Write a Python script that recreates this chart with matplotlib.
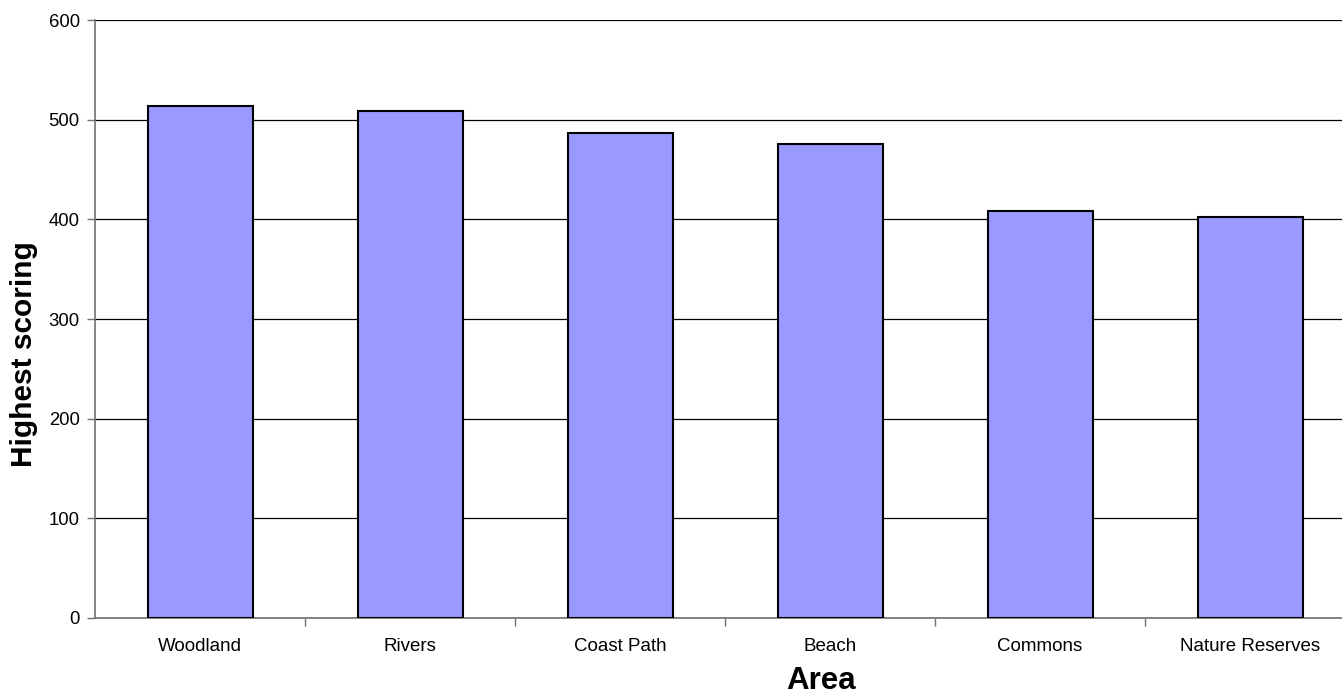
import numpy as np
import matplotlib.pyplot as plt

plt.rcParams['font.family'] = ['Liberation Sans', 'DejaVu Sans']

# values
areas = ['Woodland', 'Rivers', 'Coast Path', 'Beach', 'Commons', 'Nature Reserves']
scores = [514, 509, 487, 476, 408, 402]
yticks = [0, 100, 200, 300, 400, 500, 600]

W, H = 1342, 698
fig = plt.figure(figsize=(W / 100, H / 100), dpi=100)
# plot area runs a little past the right edge of the picture, as in the reference
ax = fig.add_axes([95 / W, (H - 617.7) / H, 1260 / W, 597.4 / H])

x = np.arange(len(areas))
ax.bar(x, scores, width=0.5, color='#9999FF', edgecolor='black', linewidth=1.5, zorder=3)

ax.set_xlim(-0.5, len(areas) - 0.5)
ax.set_ylim(0, 600)
ax.set_yticks(yticks)
ax.set_yticklabels([str(v) for v in yticks], fontsize=13.3)
ax.yaxis.grid(True, color='black', linewidth=0.9, zorder=0)
ax.set_axisbelow(True)

# category labels centred, tick marks between categories
ax.set_xticks(x)
ax.set_xticklabels(areas, fontsize=13.5)
ax.tick_params(axis='x', length=0, pad=14.5)
ax.set_xticks(np.arange(0.5, len(areas) - 0.5), minor=True)
ax.tick_params(axis='x', which='minor', length=6, color='#707070', width=1)
ax.tick_params(axis='y', length=6, color='#707070', width=1, pad=5)

for s in ['top', 'right']:
    ax.spines[s].set_visible(False)
for s in ['left', 'bottom']:
    ax.spines[s].set_color('#707070')
    ax.spines[s].set_linewidth(1.2)

fig.text(24 / W, 1 - 354 / H, 'Highest scoring', rotation=90, fontsize=21.5,
         fontweight='bold', ha='center', va='center')
fig.text(821 / W, 1 - 681 / H, 'Area', fontsize=22.5, fontweight='bold',
         ha='center', va='center')

fig.savefig('out.png', dpi=100)
